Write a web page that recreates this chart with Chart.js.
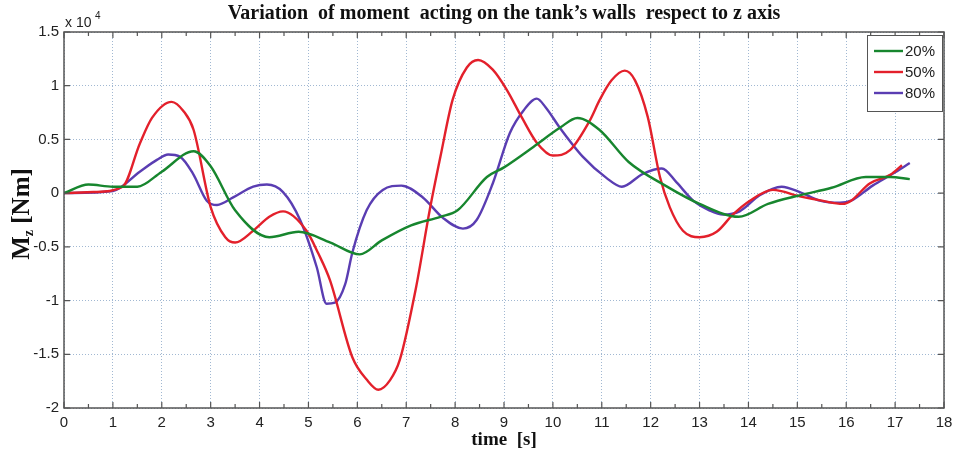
<!DOCTYPE html>
<html>
<head>
<meta charset="utf-8">
<script src="https://cdn.jsdelivr.net/npm/chart.js@4"></script>
<style>
  html, body { margin: 0; padding: 0; background: #fff; }
  #wrap { width: 959px; height: 456px; }
</style>
</head>
<body>
<div id="wrap"><canvas id="myChart" width="959" height="456"></canvas></div>
<script>
// values in units of x 10^4 Nm
const seriesNames = ['20%', '50%', '80%'];
const seriesColors = ['#17862e', '#e3202b', '#5a3db2'];

const t20 = [0, 0.5, 1.0, 1.5, 2.0, 2.65, 3.0, 3.5, 4.2, 4.8, 5.45, 6.05, 6.5, 7.1, 7.7, 8.05, 8.65, 9.0, 9.6, 10.15, 10.5, 10.95, 11.55, 12.3, 13.0, 13.8, 14.4, 15.05, 15.7, 16.4, 16.9, 17.3];
const m20 = [0, 0.08, 0.06, 0.06, 0.2, 0.39, 0.25, -0.16, -0.41, -0.36, -0.46, -0.57, -0.44, -0.30, -0.22, -0.16, 0.15, 0.24, 0.43, 0.61, 0.70, 0.59, 0.29, 0.07, -0.1, -0.22, -0.1, -0.02, 0.05, 0.15, 0.15, 0.13];

const t50 = [0, 0.6, 1.2, 1.55, 1.8, 2.2, 2.45, 2.65, 3.0, 3.3, 3.5, 3.87, 4.2, 4.48, 4.96, 5.2, 5.44, 5.9, 6.2, 6.43, 6.67, 6.87, 7.2, 7.48, 7.7, 7.95, 8.24, 8.47, 8.77, 9.06, 9.37, 9.67, 10.0, 10.35, 10.76, 10.96, 11.2, 11.47, 11.68, 11.94, 12.19, 12.39, 12.66, 13.0, 13.35, 13.68, 14.03, 14.5, 15.05, 15.5, 15.93, 16.1, 16.48, 16.9, 17.14];
const m50 = [0, 0.01, 0.06, 0.46, 0.7, 0.85, 0.76, 0.59, -0.13, -0.41, -0.46, -0.35, -0.22, -0.17, -0.35, -0.56, -0.81, -1.53, -1.74, -1.83, -1.74, -1.55, -0.88, -0.16, 0.34, 0.87, 1.17, 1.24, 1.15, 0.96, 0.70, 0.47, 0.35, 0.40, 0.68, 0.87, 1.05, 1.14, 1.05, 0.71, 0.15, -0.13, -0.35, -0.41, -0.36, -0.2, -0.07, 0.03, -0.03, -0.07, -0.1, -0.07, 0.09, 0.17, 0.26];

const t80 = [0, 1.0, 1.55, 1.9, 2.13, 2.37, 2.64, 2.92, 3.13, 3.46, 3.87, 4.15, 4.48, 4.83, 5.17, 5.37, 5.54, 5.75, 5.9, 6.19, 6.52, 6.9, 7.34, 7.75, 8.16, 8.44, 8.77, 9.12, 9.4, 9.67, 9.85, 10.14, 10.61, 11.1, 11.41, 11.84, 12.23, 12.53, 12.87, 13.2, 13.48, 13.82, 14.23, 14.68, 15.05, 15.46, 15.87, 16.1, 16.54, 16.95, 17.3];
const m80 = [0, 0.02, 0.2, 0.31, 0.36, 0.34, 0.18, -0.07, -0.11, -0.04, 0.06, 0.08, 0.01, -0.25, -0.69, -1.03, -1.02, -0.85, -0.55, -0.16, 0.03, 0.07, -0.04, -0.23, -0.33, -0.25, 0.09, 0.56, 0.77, 0.88, 0.8, 0.61, 0.34, 0.14, 0.06, 0.18, 0.23, 0.1, -0.07, -0.16, -0.2, -0.17, -0.02, 0.06, 0.01, -0.07, -0.09, -0.07, 0.07, 0.18, 0.28];

const xTicks = [0, 1, 2, 3, 4, 5, 6, 7, 8, 9, 10, 11, 12, 13, 14, 15, 16, 17, 18];
const yTicks = [-2, -1.5, -1, -0.5, 0, 0.5, 1, 1.5];
const yTickLabels = ['-2', '-1.5', '-1', '-0.5', '0', '0.5', '1', '1.5'];

function toPoints(ts, vs) {
  return ts.map((t, i) => ({ x: t, y: vs[i] }));
}

const allT = [t20, t50, t80];
const allM = [m20, m50, m80];

const datasets = seriesNames.map((name, i) => ({
  label: name,
  data: toPoints(allT[i], allM[i]),
  borderColor: seriesColors[i],
  borderWidth: 2.4,
  pointRadius: 0,
  tension: 0.4,
  cubicInterpolationMode: 'monotone',
  fill: false
}));

const axisColor = '#555';
const textColor = '#222';

// titles, box, inward ticks and legend
const decorations = {
  id: 'decorations',
  afterDraw(chart) {
    const ctx = chart.ctx;
    const a = chart.chartArea;
    const xs = chart.scales.x;
    const ys = chart.scales.y;
    ctx.save();

    // box
    ctx.strokeStyle = axisColor;
    ctx.lineWidth = 1.5;
    ctx.strokeRect(a.left, a.top, a.right - a.left, a.bottom - a.top);

    // inward ticks
    ctx.lineWidth = 1.2;
    ctx.beginPath();
    for (let v = 0; v <= 18; v += 0.5) {
      const px = xs.getPixelForValue(v);
      const len = Number.isInteger(v) ? 6 : 4;
      ctx.moveTo(px, a.bottom); ctx.lineTo(px, a.bottom - len);
      ctx.moveTo(px, a.top); ctx.lineTo(px, a.top + len);
    }
    yTicks.forEach(v => {
      const py = ys.getPixelForValue(v);
      ctx.moveTo(a.left, py); ctx.lineTo(a.left + 6, py);
      ctx.moveTo(a.right, py); ctx.lineTo(a.right - 6, py);
    });
    ctx.stroke();

    // title
    ctx.fillStyle = '#111';
    ctx.textAlign = 'center';
    ctx.textBaseline = 'middle';
    ctx.font = 'bold 20px "Liberation Serif"';
    ctx.fillText('Variation  of moment  acting on the tank\u2019s walls  respect to z axis', (a.left + a.right) / 2, 14);

    // x title
    ctx.font = 'bold 19px "Liberation Serif"';
    ctx.fillText('time  [s]', (a.left + a.right) / 2, 440);

    // y title with subscript
    ctx.save();
    ctx.translate(20, 214);
    ctx.rotate(-Math.PI / 2);
    ctx.textAlign = 'left';
    ctx.textBaseline = 'alphabetic';
    const big = 'bold 25px "Liberation Serif"';
    const small = 'bold 14px "Liberation Serif"';
    ctx.font = big;
    const wM = ctx.measureText('M').width;
    const wRest = ctx.measureText(' [Nm]').width;
    ctx.font = small;
    const wz = ctx.measureText('z').width;
    let x0 = -(wM + wz + wRest) / 2;
    ctx.font = big;
    ctx.fillText('M', x0, 9);
    ctx.font = small;
    ctx.fillText('z', x0 + wM, 13);
    ctx.font = big;
    ctx.fillText(' [Nm]', x0 + wM + wz, 9);
    ctx.restore();

    // exponent label
    ctx.fillStyle = textColor;
    ctx.textAlign = 'left';
    ctx.textBaseline = 'alphabetic';
    ctx.font = '14px "Liberation Sans"';
    ctx.fillText('x 10', 65, 27);
    ctx.font = '10px "Liberation Sans"';
    ctx.fillText('4', 95, 19);

    // legend
    const lx = 867, ly = 35, lw = 75, lh = 76;
    ctx.fillStyle = '#fff';
    ctx.fillRect(lx, ly, lw, lh);
    ctx.strokeStyle = axisColor;
    ctx.lineWidth = 1;
    ctx.strokeRect(lx + 0.5, ly + 0.5, lw, lh);
    const rows = [51, 72, 93];
    seriesNames.forEach((name, i) => {
      ctx.strokeStyle = seriesColors[i];
      ctx.lineWidth = 2.4;
      ctx.beginPath();
      ctx.moveTo(874, rows[i]); ctx.lineTo(903, rows[i]);
      ctx.stroke();
      ctx.fillStyle = textColor;
      ctx.font = '15px "Liberation Sans"';
      ctx.textBaseline = 'middle';
      ctx.fillText(name, 905, rows[i] + 1);
    });

    ctx.restore();
  }
};

const ctx = document.getElementById('myChart').getContext('2d');

const myChart = new Chart(ctx, {
  type: 'line',
  data: { datasets: datasets },
  options: {
    responsive: false,
    animation: false,
    layout: { padding: { left: 0, right: 15, top: 32, bottom: 0 } },
    plugins: {
      legend: { display: false },
      tooltip: { enabled: false }
    },
    scales: {
      x: {
        type: 'linear',
        min: 0,
        max: 18,
        afterBuildTicks: (scale) => { scale.ticks = xTicks.map(v => ({ value: v })); },
        afterFit: (scale) => { scale.height = 48; },
        ticks: {
          font: { family: 'Liberation Sans', size: 15 },
          color: textColor,
          padding: 6,
          maxRotation: 0,
          autoSkip: false
        },
        grid: { color: 'rgba(130,160,195,0.75)', lineWidth: 1, drawTicks: false },
        border: { display: false, dash: [1, 2] }
      },
      y: {
        type: 'linear',
        min: -2,
        max: 1.5,
        afterBuildTicks: (scale) => { scale.ticks = yTicks.map(v => ({ value: v })); },
        afterFit: (scale) => { scale.width = 64; },
        ticks: {
          font: { family: 'Liberation Sans', size: 15 },
          color: textColor,
          padding: 5,
          callback: (v) => yTickLabels[yTicks.indexOf(v)]
        },
        grid: { color: 'rgba(130,160,195,0.75)', lineWidth: 1, drawTicks: false },
        border: { display: false, dash: [1, 2] }
      }
    }
  },
  plugins: [decorations]
});
</script>
</body>
</html>
